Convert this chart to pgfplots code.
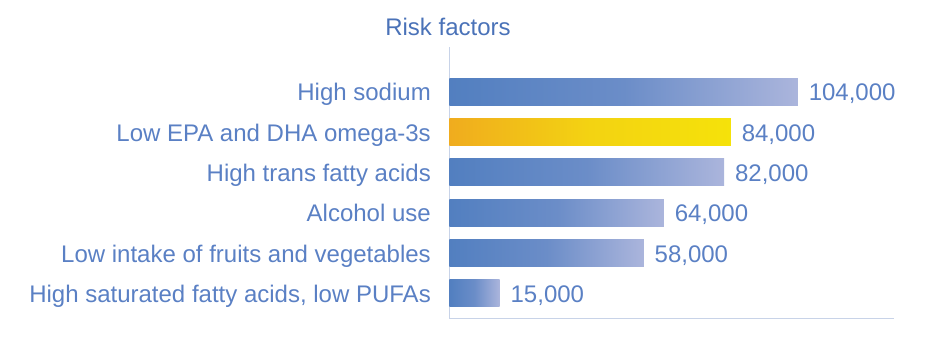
\documentclass[border=0pt]{standalone}
\usepackage{pgfplots}
\pgfplotsset{compat=1.18}
\usepackage{fontspec}
\setmainfont{Liberation Sans}
\definecolor{barL}{HTML}{527FC0}
\definecolor{barM}{HTML}{6B8DC8}
\definecolor{barR}{HTML}{ABB5DC}
\definecolor{yelL}{HTML}{F0AC1E}
\definecolor{yelM}{HTML}{F3D312}
\definecolor{yelR}{HTML}{F5E20A}
\definecolor{txt}{HTML}{5A80C4}
\definecolor{ttl}{HTML}{4A72B8}
\definecolor{axl}{HTML}{C8D3E8}
\pgfplotsset{bluebar/.style={xbar, bar shift=0pt, bar width=27pt, draw=none, left color=barL, right color=barR, middle color=barM}}
\begin{document}
\begin{tikzpicture}[x=1pt,y=1pt]
\path (0,0) rectangle (927,352);
\node[anchor=base, text=ttl, inner sep=0pt, font=\fontsize{24}{28}\selectfont] at (448,316) {Risk factors};
\begin{axis}[
  at={(449.5pt,33pt)}, anchor=south west,
  width=444.5pt, height=272pt, scale only axis,
  xmin=0, xmax=132700, ymin=-0.638, ymax=6.109,
  axis lines=left, axis line style={-, draw=axl, line width=1pt},
  xtick=\empty, ytick={0,1,2,3,4,5},
  yticklabels={{High saturated fatty acids, low PUFAs},{Low intake of fruits and vegetables},{Alcohol use},{High trans fatty acids},{Low EPA and DHA omega-3s},{High sodium}},
  major tick length=0pt,
  yticklabel style={anchor=mid east, inner sep=0pt, text=txt, font=\fontsize{24}{28}\selectfont, yshift=-6.4pt},
  yticklabel shift=18.5pt,
  clip=false,
  /pgf/number format/fixed,
  /pgf/number format/1000 sep={,},
  /pgf/number format/assume math mode=true,
]
\addplot[bluebar] coordinates {(104000,5)};
\addplot[xbar, bar shift=0pt, bar width=27pt, draw=none, left color=yelL, right color=yelR, middle color=yelM]
  coordinates {(84000,4)};
\addplot[bluebar] coordinates {(82000,3)};
\addplot[bluebar] coordinates {(64000,2)};
\addplot[bluebar] coordinates {(58000,1)};
\addplot[bluebar] coordinates {(15000,0)};
\addplot[draw=none, mark=none, nodes near coords, point meta=x,
  nodes near coords style={anchor=mid west, inner sep=0pt, xshift=10.7pt, yshift=-6.4pt, text=txt, font=\fontsize{24}{28}\selectfont}]
  coordinates {(15000,0) (58000,1) (64000,2) (82000,3) (84000,4) (104000,5)};
\end{axis}
\end{tikzpicture}
\end{document}
